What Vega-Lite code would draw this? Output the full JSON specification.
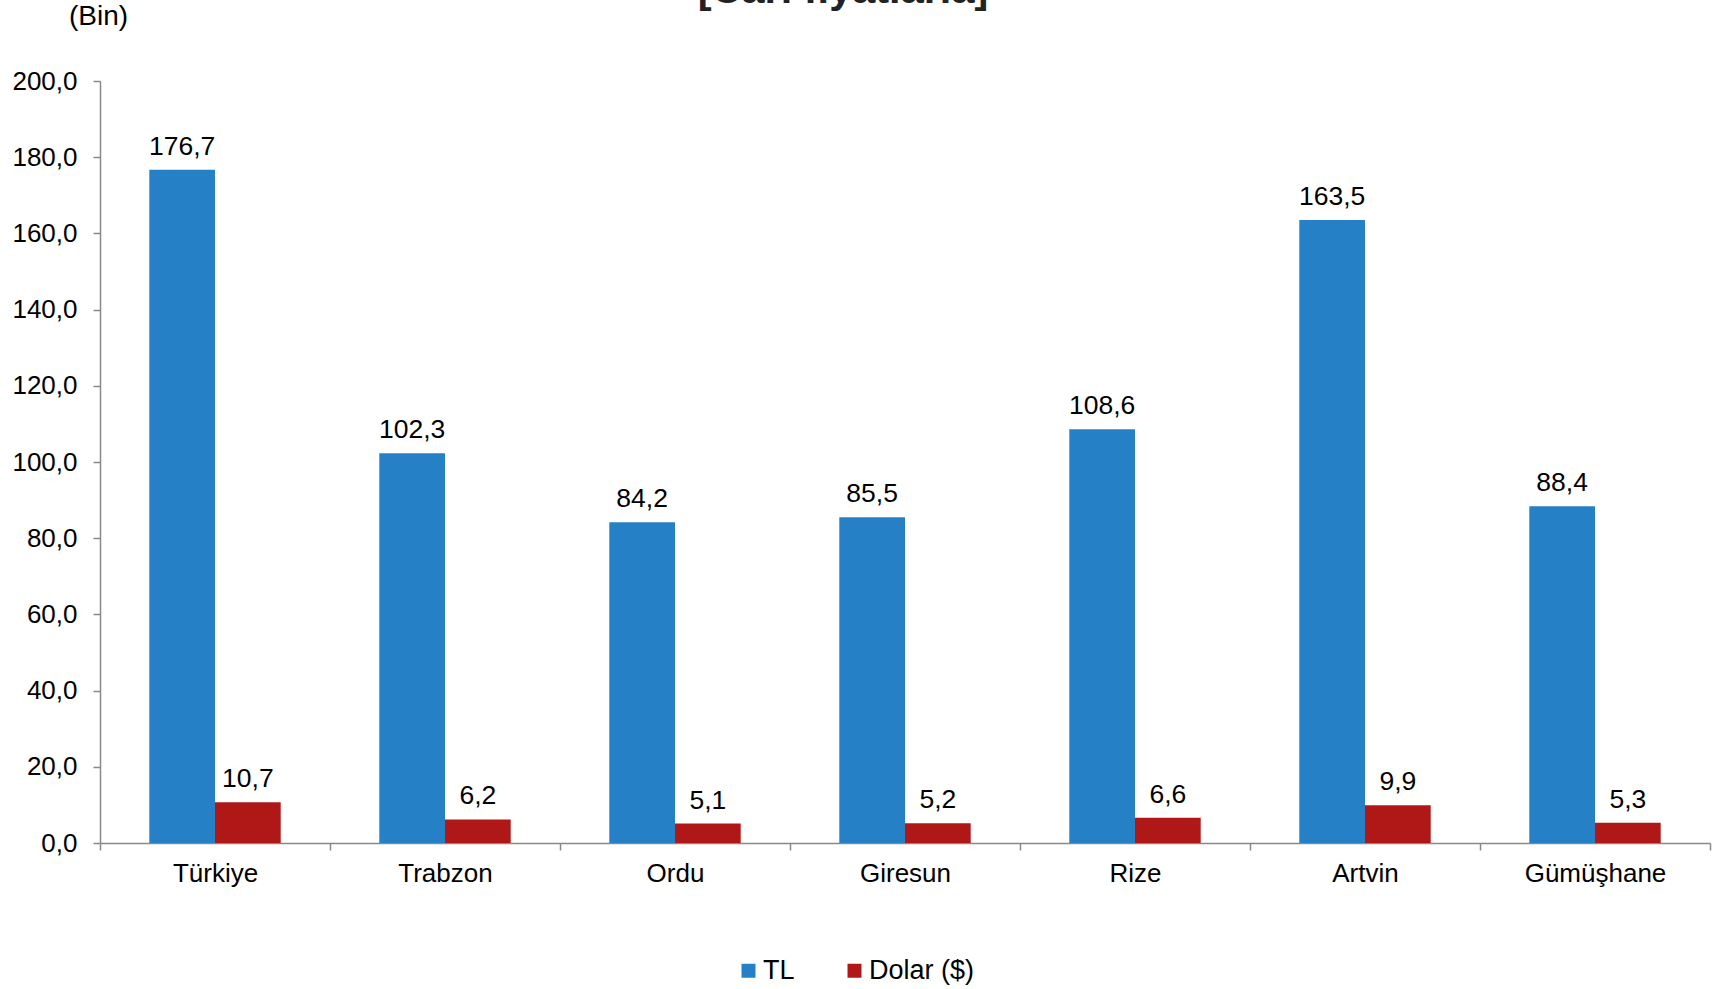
{
  "$schema": "https://vega.github.io/schema/vega-lite/v6.json",
  "width": 1610,
  "height": 762,
  "autosize": {"type": "none"},
  "padding": {"left": 100, "top": 81, "right": 7, "bottom": 146},
  "background": "white",
  "config": {
    "locale": {"number": {"decimal": ",", "thousands": ".", "grouping": [3], "currency": ["", ""]}},
    "font": "Liberation Sans",
    "view": {"stroke": null}
  },
  "title": {"text": "[Cari fiyatlarla]", "fontSize": 41.5, "fontWeight": "bold", "font": "Liberation Sans", "color": "#222", "anchor": "middle", "dx": -62, "dy": 42, "offset": 0, "baseline": "alphabetic"},
  "data": {"values": [
    {"il": "Türkiye", "tur": "TL", "deger": 176.7},
    {"il": "Türkiye", "tur": "Dolar ($)", "deger": 10.7},
    {"il": "Trabzon", "tur": "TL", "deger": 102.3},
    {"il": "Trabzon", "tur": "Dolar ($)", "deger": 6.2},
    {"il": "Ordu", "tur": "TL", "deger": 84.2},
    {"il": "Ordu", "tur": "Dolar ($)", "deger": 5.1},
    {"il": "Giresun", "tur": "TL", "deger": 85.5},
    {"il": "Giresun", "tur": "Dolar ($)", "deger": 5.2},
    {"il": "Rize", "tur": "TL", "deger": 108.6},
    {"il": "Rize", "tur": "Dolar ($)", "deger": 6.6},
    {"il": "Artvin", "tur": "TL", "deger": 163.5},
    {"il": "Artvin", "tur": "Dolar ($)", "deger": 9.9},
    {"il": "Gümüşhane", "tur": "TL", "deger": 88.4},
    {"il": "Gümüşhane", "tur": "Dolar ($)", "deger": 5.3}
  ]},
  "encoding": {
    "x": {"field": "il", "type": "nominal", "sort": null,
      "scale": {"paddingInner": 0, "paddingOuter": 0},
      "axis": {"title": null, "labelAngle": 0, "labelFontSize": 26, "labelColor": "#000", "domainColor": "#898989", "domainWidth": 1.5, "tickColor": "#898989", "tickWidth": 1.5, "tickSize": 7, "tickBand": "extent", "labelPadding": 10}},
    "xOffset": {"field": "tur", "type": "nominal", "sort": ["TL", "Dolar ($)"], "scale": {"paddingOuter": 0.75, "paddingInner": 0}},
    "y": {"field": "deger", "type": "quantitative",
      "scale": {"domain": [0, 200]},
      "axis": {"title": "(Bin)", "titleAngle": 0, "titleX": -2, "titleY": -65, "titleAlign": "center", "titleBaseline": "middle", "titleFontSize": 28, "titleFontWeight": "normal", "titleColor": "#000",
        "values": [0, 20, 40, 60, 80, 100, 120, 140, 160, 180, 200], "format": ".1f", "labelFontSize": 26, "labelColor": "#000", "grid": false, "domainColor": "#898989", "domainWidth": 1.5, "tickColor": "#898989", "tickWidth": 1.5, "tickSize": 7, "labelPadding": 16}}
  },
  "layer": [
    {"mark": {"type": "bar"},
      "encoding": {"color": {"field": "tur", "type": "nominal",
        "scale": {"domain": ["TL", "Dolar ($)"], "range": ["#2680c6", "#b01818"]},
        "legend": {"title": null, "orient": "none", "legendX": 635, "legendY": 876, "direction": "horizontal", "symbolType": "square", "symbolSize": 196, "symbolStrokeWidth": 0, "labelFontSize": 27, "labelColor": "#000", "labelOffset": 1, "columnPadding": 46}}}},
    {"mark": {"type": "text", "fontSize": 26.5, "baseline": "alphabetic", "dy": -15, "color": "#000"},
      "encoding": {"text": {"field": "deger", "type": "quantitative", "format": ".1f"}}}
  ]
}
